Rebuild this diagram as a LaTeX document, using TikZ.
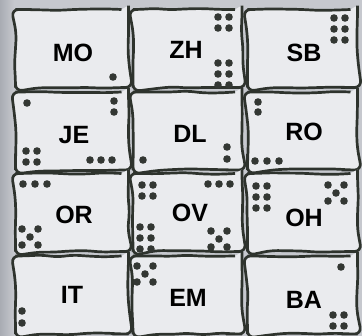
\documentclass[tikz,border=0pt]{standalone}
\usepackage{fontspec}
\setmainfont{Liberation Sans}
\usetikzlibrary{decorations.pathmorphing}
\definecolor{bggray}{HTML}{C6C8CE}
\definecolor{bgdark}{HTML}{A9ACB3}
\definecolor{cellfill}{HTML}{EAEBEE}
\definecolor{inkline}{HTML}{2E332D}
\definecolor{dotink}{HTML}{333733}

\begin{document}
\begin{tikzpicture}[
  x=1pt, y=-1pt,
  cell/.style={
    draw=inkline, line width=2.7pt, fill=cellfill,
    minimum width=#1, minimum height=78pt, inner sep=0pt,
    decoration={random steps, segment length=16pt, amplitude=1.1pt},
    decorate, rounded corners=7pt
  },
  lbl/.style={font=\fontsize{25}{29}\selectfont\bfseries, text=black, inner sep=0pt},
  pip/.style={fill=dotink},
]
\pgfmathsetseed{23}

% Background
\fill[bggray] (0,0) rectangle (362,336);
\shade[left color=bgdark, right color=bggray] (0,0) rectangle (14,336);
\useasboundingbox (0,0) rectangle (362,336);

% =============================================
% Cells (name / centre / width)
% =============================================
\foreach \nm/\x/\y/\w in {
    mo/72/48.5/113, zh/187.5/48.5/109, sb/302.5/48.5/110,
    je/72/131/113,  dl/187.5/131/109,  ro/302.5/131/110,
    or/72/212.5/113, ov/187.5/212.5/109, oh/302.5/212.5/110,
    it/72/295/113,  em/187.5/295/109,  ba/302.5/295/110} {
  \node[cell=\w] (\nm) at (\x,\y) {};
}

% Labels
\foreach \nm/\t/\x/\y in {
    mo/MO/73/53,   zh/ZH/186/50,  sb/SB/304/53,
    je/JE/74/135,  dl/DL/190/134, ro/RO/304/132,
    or/OR/74/215,  ov/OV/190/213, oh/OH/304/218,
    it/IT/72/295,  em/EM/188/298, ba/BA/304/300} {
  \node[lbl] (\nm-lbl) at (\x,\y) {\t};
}

% =============================================
% Dots
% =============================================
% single dots and rows/columns
\foreach \x/\y in {
    113/77,                                   % MO
    27/103, 114/101, 114/112,                 % JE
    26/151, 37/151, 26/162, 37/162,
    90/160, 101/160, 112/160,
    143/160, 227/147, 227/159,                % DL
    258/102, 258/112, 255/161, 267/161, 279/161, % RO
    23/184, 35/184, 47/184,                   % OR
    208/184, 219/184, 230/184,                % OV
    22/311, 22/323,                           % IT
    341/267} {                                % BA
  \fill[pip] (\x,\y) circle (3.8);
}

% 2x2 and 2x3 blocks (left x / top y / rows)
\foreach \x/\y/\n in {218/17/2, 218/63/3, 334/18/3,
    142/185/2, 140/227/3, 256/186/3, 333/315/2} {
  \foreach \r in {1,...,\n} {
    \fill[pip] (\x,{\y+(\r-1)*11}) circle (3.8);
    \fill[pip] (\x+11,{\y+(\r-1)*11}) circle (3.8);
  }
}

% five-dot patterns (centre)
\foreach \x/\y in {30/237, 219/239, 336/193, 145/274} {
  \foreach \dx/\dy in {-8/-8, 8/-8, 0/0, -8/8, 8/8} {
    \fill[pip] (\x+\dx,\y+\dy) circle (3.8);
  }
}

\end{tikzpicture}
\end{document}
